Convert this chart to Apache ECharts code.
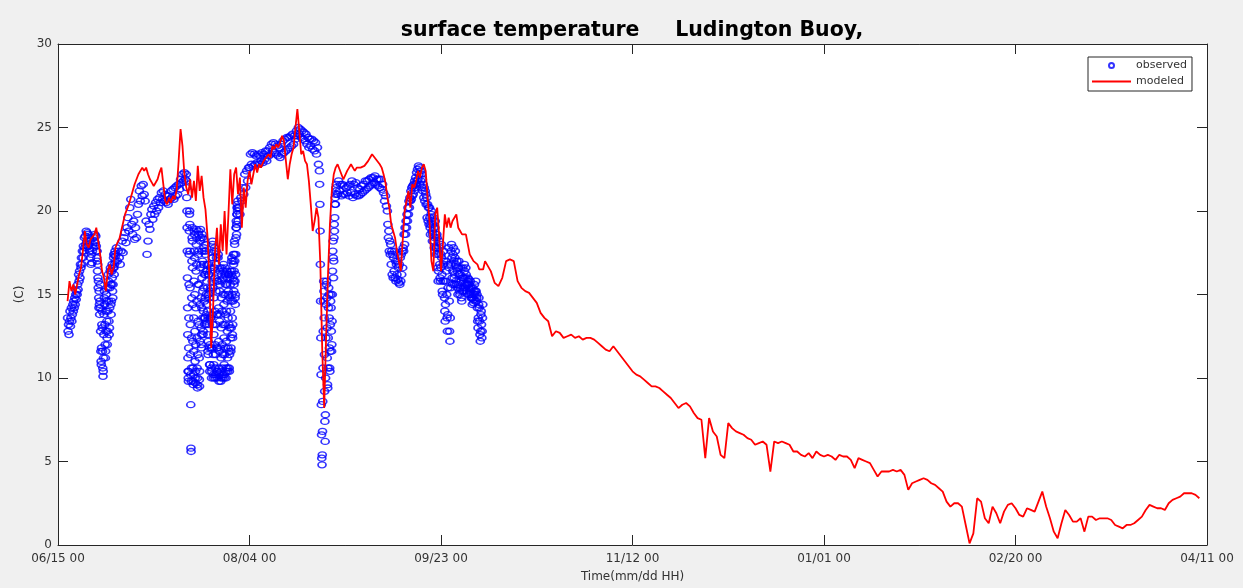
<!DOCTYPE html>
<html>
<head>
<meta charset="utf-8">
<script src="https://cdn.jsdelivr.net/npm/echarts/dist/echarts.min.js"></script>
<style>
  html, body { margin: 0; padding: 0; background: #f0f0f0; }
  #chart { width: 1243px; height: 588px; }
</style>
</head>
<body>
<div id="chart"></div>
<script>
// Time axis is in days since 06/15 00; ticks every 50 days.
const xTickLabels = ['06/15 00', '08/04 00', '09/23 00', '11/12 00', '01/01 00', '02/20 00', '04/11 00'];

// Observed buoy temperature (C), stored per segment; each comment gives the first day and sample step.
const obsEarlyJune = [ // from day 2.5, every 0.125 day
  13.6, 12.8, 13.2, 12.6,
  13.4, 14.0, 13.1, 13.6, 14.2, 13.4, 13.8, 14.4,
  14.0, 14.6, 14.2, 14.8, 14.4, 15.0, 14.7, 15.2,
  15.0, 15.6, 15.3, 16.2, 15.8, 16.4, 16.0, 16.8,
  16.6, 17.2, 16.8, 17.6, 17.2, 17.9, 17.6, 18.4,
  17.8, 18.5, 18.0, 18.8, 18.2, 18.7, 17.9, 18.6,
  18.0, 18.4, 17.6, 18.2, 17.2, 16.8, 17.4, 16.9,
  17.6, 18.0, 17.8, 18.4, 18.2, 18.6, 18.1, 18.5
];
const obsUpwelling1 = [ // from day 10, every 1/16 day
  17.9, 17.6, 17.2, 17.6, 17.0, 16.4, 16.8, 16.0, 15.4, 15.8, 14.8, 14.2, 15.2, 14.4, 13.8, 14.6,
  15.6, 14.2, 12.8, 11.6, 11.0, 10.8, 11.8, 13.2, 14.0, 13.0, 11.6, 10.6, 10.1, 10.4, 11.2, 12.6,
  13.8, 14.8, 15.2, 14.4, 13.2, 12.0, 11.2, 11.6, 12.8, 14.0, 15.0, 14.6, 13.4, 12.4, 12.0, 12.8,
  14.0, 15.4, 16.2, 15.8, 14.6, 13.4, 12.6, 13.0, 14.2, 15.4, 16.4, 16.6, 15.6, 14.4, 13.8, 14.6,
  15.6, 16.4, 16.8, 16.0, 15.2, 14.8, 15.6, 16.6, 17.2, 17.4, 16.6, 16.2, 16.8, 17.4, 17.6, 17.0
];
const obsJuly = [ // from day 15, every 0.25 day
  17.3, 17.8, 17.0, 17.6,
  17.2, 16.8, 17.6, 18.2,
  17.5, 18.4, 18.7, 18.1,
  19.0, 19.6, 18.8, 20.2,
  20.7, 19.2, 18.6, 19.4,
  18.3, 19.0, 18.4, 19.8,
  20.4, 21.2, 20.6, 21.5,
  20.9, 21.6, 21.0, 20.6,
  19.4, 17.4, 18.2, 19.2,
  18.9, 19.8, 20.1, 19.5,
  20.3, 19.8, 20.5, 20.0,
  20.7, 20.2, 20.8, 20.5,
  21.1, 20.7, 21.2, 20.6,
  21.0, 20.5, 20.9, 20.4,
  20.9, 20.7, 21.2, 20.8,
  21.3, 20.7, 21.4, 20.9,
  21.5, 21.0, 21.6, 21.3,
  21.9, 21.7, 22.2, 21.8,
  22.3, 21.9
];
const obsUpwelling2 = [ // from day 33.5, hourly
  22.2, 21.8, 21.4, 20.8, 20.0, 19.0, 17.6, 16.0, 14.2, 12.6, 11.2, 10.4,
  10.0, 9.8, 10.4, 11.8, 13.6, 15.6, 17.4, 18.8, 19.8, 20.0, 19.2, 17.6, 15.4, 13.2, 11.4, 10.2, 8.4, 5.8, 5.6, 9.8, 10.6, 12.4, 14.8, 17.0,
  18.4, 19.0, 18.2, 16.6, 14.4, 12.2, 10.6, 9.8, 9.6, 10.2, 11.6, 13.6, 15.8, 17.6, 18.8, 18.6, 17.2, 15.0, 12.8, 11.0, 10.0, 9.7, 10.4, 12.0,
  14.2, 16.4, 18.0, 18.9, 18.4, 16.8, 14.6, 12.4, 10.6, 9.6, 9.4, 10.0, 11.4, 13.4, 15.6, 17.4, 18.6, 18.8, 17.6, 15.6, 13.2, 11.2, 9.9, 9.5,
  10.4, 12.2, 14.4, 16.6, 18.2, 18.9, 18.4, 16.8, 14.8, 13.0, 12.0, 11.8, 12.6, 14.2, 16.0, 17.6, 18.6, 18.4, 17.0, 15.2, 13.6, 12.6, 12.8, 14.0,
  15.4, 16.8, 17.8, 18.3, 17.6, 16.2, 14.6, 13.6, 13.2, 13.6, 14.8, 16.2, 17.4, 18.0, 17.6, 16.4, 15.0, 13.8, 13.2, 13.4, 14.4, 15.8, 16.8, 16.4,
  15.4, 14.0, 12.6, 11.6, 11.4, 12.2, 13.6, 15.0, 16.2, 16.8, 16.2, 14.8, 13.2, 11.8, 10.8, 10.4, 10.8, 12.0, 13.6, 15.2, 16.4, 16.6, 15.4, 13.6,
  11.8, 10.6, 10.0, 10.4, 11.8, 13.8, 15.8, 17.2, 18.0, 18.2, 17.2, 15.4, 13.2, 11.4, 10.2, 10.0, 10.8, 12.6, 14.8, 16.6, 17.8, 17.6, 16.0, 14.0,
  12.0, 10.6, 10.0, 10.2, 11.4, 13.2, 15.2, 16.8, 17.6, 17.2, 15.8, 13.8, 11.8, 10.4, 10.0, 10.4, 11.8, 13.8, 15.8, 17.2, 17.4, 16.2, 14.2, 12.2,
  10.6, 9.8, 10.2, 11.6, 13.4, 15.2, 16.4, 16.6, 15.6, 13.8, 11.8, 10.4, 9.8, 10.0, 11.2, 13.0, 14.8, 16.2, 16.6, 15.8, 14.0, 12.0, 10.6, 10.0,
  10.2, 11.4, 13.2, 15.0, 16.4, 16.8, 16.0, 14.4, 12.4, 10.8, 10.0, 10.2, 11.4, 13.2, 15.0, 16.2, 16.6, 15.6, 13.8, 11.8, 10.4, 10.0, 10.6, 12.2,
  14.0, 15.6, 16.4, 16.0, 14.6, 12.8, 11.2, 10.4, 10.6, 11.8, 13.6, 15.2, 16.2, 16.2, 15.0, 13.2, 11.6, 10.6, 10.4, 11.4, 13.0, 14.8, 16.0, 16.4,
  15.6, 14.0, 12.4, 11.6, 11.8, 13.0, 14.6, 16.2, 17.0, 17.2, 16.4, 15.0, 13.6, 12.6, 12.4, 13.2, 14.6, 16.0, 17.0, 17.4, 16.8, 15.8, 15.2, 15.6,
  16.4, 17.4, 18.2, 18.0, 17.0, 15.8, 14.8, 14.4, 15.0, 16.2, 17.4, 18.4, 19.0, 19.4, 19.0, 18.6, 19.2, 19.8, 20.2, 19.8, 20.4, 20.0, 20.6, 20.2
];
const obsAugust = [ // from day 47, every 0.25 day
  19.4, 20.2, 19.8, 20.8,
  20.6, 21.4, 21.0, 22.2,
  21.4, 22.4, 21.8, 22.6,
  22.6, 23.4, 22.8, 23.5,
  22.7, 23.4, 22.8, 23.3,
  22.9, 23.4, 22.8, 23.3,
  23.0, 23.5, 22.9, 23.4,
  23.1, 23.6, 23.0, 23.6,
  23.3, 23.8, 23.4, 24.0,
  23.6, 24.1, 23.5, 24.0,
  23.4, 23.9, 23.3, 23.8,
  23.2, 24.0, 23.4, 24.2,
  23.5, 24.3, 23.6, 24.4,
  23.7, 24.4, 23.8, 24.5,
  23.9, 24.6, 24.0, 24.5,
  24.3, 24.8, 24.5, 25.0,
  24.6, 24.9, 24.4, 24.8,
  24.3, 24.7, 24.2, 24.6,
  24.0, 24.4, 23.8, 24.3,
  23.9, 24.3, 23.7, 24.2,
  23.6, 24.1, 23.4, 23.8,
  22.8
];
const obsUpwelling3 = [ // from day 68.25, every 1/16 day
  22.4, 21.6, 20.4, 18.8, 16.8, 14.6, 12.4, 10.2, 8.4, 6.6, 5.2, 4.8,
  5.4, 6.8, 8.6, 10.6, 12.8, 14.6, 15.8, 15.2, 13.6, 11.4, 9.2, 7.4, 6.2, 7.8, 10.0, 12.4,
  14.4, 15.6, 15.8, 14.8, 13.0, 11.2, 9.6, 9.4, 10.6, 12.4, 14.2, 15.4, 15.0, 13.6, 11.8, 10.6,
  10.4, 11.6, 13.2, 14.6, 15.0, 14.2, 12.8, 11.6, 12.0, 13.4, 15.0, 16.4, 17.6, 18.2, 17.2, 16.0,
  17.0, 18.4, 19.2, 18.8, 19.6, 20.4, 20.8, 20.4, 21.0, 21.4, 21.2, 21.6
];
const obsSeptember = [ // from day 73, every 0.25 day
  21.0, 21.8, 21.2, 21.6,
  20.9, 21.6, 21.0, 21.5,
  21.0, 21.4, 21.1, 21.5,
  20.9, 21.6, 21.1, 21.8,
  20.8, 21.6, 21.0, 21.7,
  20.9, 21.4, 20.9, 21.3,
  21.0, 21.5, 21.1, 21.6,
  21.2, 21.8, 21.3, 21.8,
  21.4, 21.9, 21.5, 22.0,
  21.6, 22.0, 21.7, 22.1,
  21.6, 21.9, 21.5, 21.9,
  21.4, 21.9, 21.3, 21.6,
  21.1, 20.6, 20.9, 20.3
];
const obsLateSept = [ // from day 86, every 0.125 day
  20.0, 19.2, 18.4, 18.8, 17.6, 18.2, 17.4, 18.0,
  16.8, 17.6, 16.2, 17.4, 16.0, 17.2, 16.4, 17.6,
  16.0, 17.0, 15.8, 16.8, 16.2, 17.0, 15.9, 16.6,
  15.7, 16.8, 15.6, 17.2, 15.8, 17.4, 16.2, 17.6,
  16.6, 17.8, 17.6, 18.6, 18.0, 19.0, 18.6, 19.4,
  19.0, 19.8, 19.4, 20.2, 19.8, 20.6, 20.2, 20.8,
  20.6, 21.2, 20.7, 21.4, 20.9, 21.5, 21.0, 21.6,
  21.2, 21.8, 21.4, 22.0, 21.6, 22.3, 21.8, 22.5,
  21.9, 22.7, 22.2, 22.6, 21.6, 22.4, 21.8, 22.2,
  21.4, 21.9, 21.2, 21.6, 20.8, 21.4, 20.6, 21.2,
  21.0, 20.4, 20.8, 19.6, 20.4, 19.4, 20.2, 19.2
];
const obsOctober = [ // from day 97, every 1/12 day
  20.2, 19.6, 19.0, 18.6, 19.2, 19.8, 20.0, 19.4, 18.8, 18.2, 18.6, 19.2,
  19.6, 19.0, 18.2, 17.8, 18.4, 19.0, 19.4, 18.6, 17.8, 17.4, 17.8, 18.6,
  18.4, 17.6, 16.6, 15.8, 16.4, 17.4, 18.2, 17.8, 16.8, 16.0, 15.8, 16.6,
  17.4, 18.0, 17.2, 16.2, 15.2, 15.0, 15.8, 16.8, 17.6, 17.0, 15.8, 14.8,
  14.0, 13.4, 14.4, 15.8, 17.0, 16.4, 15.0, 13.6, 12.8, 13.8, 15.4, 16.8,
  17.8, 16.6, 14.6, 12.8, 12.2, 13.6, 15.4, 16.8, 17.6, 18.0, 17.2, 16.0,
  15.6, 16.4, 17.4, 17.8, 17.0, 16.0, 15.6, 16.2, 17.2, 17.6, 16.8, 15.8,
  15.6, 16.6, 17.0, 16.4, 15.4, 15.0, 15.6, 16.6, 17.0, 16.2, 15.2, 15.0,
  15.4, 16.2, 16.6, 15.8, 14.8, 14.6, 15.2, 16.0, 16.6, 16.0, 15.2, 15.4,
  16.0, 16.8, 16.4, 15.6, 15.4, 16.0, 16.6, 16.2, 15.6, 15.2, 15.6, 15.8,
  16.0, 15.6, 15.0, 15.4, 15.9, 15.6, 15.0, 15.2, 15.8, 15.4, 14.8, 15.0,
  15.4, 14.8, 14.4, 14.8, 15.4, 15.0, 14.5, 14.7, 15.2, 15.6, 15.0, 14.6,
  15.2, 15.8, 15.2, 14.6, 14.8, 15.0, 14.2, 13.4, 13.0, 13.6, 14.4, 14.8,
  14.2, 13.4, 12.6, 12.2, 12.8, 13.8, 14.0, 13.2, 12.4, 12.8, 13.6, 14.4
];

// Modeled surface temperature (C)
const modeledSummer = [ // from day 2.5, every 0.5 day
  14.6, 15.8, 15.2, 15.6, 15.0, 14.9, 16.2, 16.6, 17.6, 18.8,
  18.0, 17.8, 18.3, 18.4, 18.6, 19.0, 18.2, 17.4, 16.4, 16.0,
  15.2, 16.4, 16.8, 16.2, 16.6, 17.8, 18.1, 18.3, 18.8, 19.3,
  19.8, 19.9, 20.4, 20.8, 21.2, 21.6, 21.9, 22.2, 22.4, 22.6,
  22.4, 22.6, 22.2, 21.9, 21.7, 21.5, 21.6, 21.9, 22.3, 22.6,
  21.6, 20.6, 20.4, 20.8, 20.5, 20.9, 20.7, 21.3, 23.0, 24.9,
  23.9, 22.2, 21.4, 21.0, 21.9, 20.8, 21.8, 20.6, 22.7, 21.2,
  22.1, 20.8, 20.1, 18.6, 16.2, 11.8, 14.2, 17.6, 19.0, 16.8,
  19.2, 17.6, 20.0, 17.4, 19.8, 22.5, 20.4, 22.2, 22.6, 21.0,
  22.0, 19.0, 21.4, 20.2, 21.8, 22.4, 21.6, 22.2, 22.8, 22.3,
  22.8, 22.6, 22.9, 23.1, 23.0, 23.4, 23.2, 23.9, 23.7, 24.0,
  23.8, 24.1, 24.5, 24.2, 23.0, 21.9, 22.8, 23.4, 23.8, 25.0,
  26.1, 24.8, 23.4, 23.6, 23.0, 22.8, 21.8, 20.4, 18.8, 19.4,
  20.2, 19.6, 16.8, 11.6, 8.2, 12.4, 16.2, 19.2, 21.2, 22.2,
  22.6, 22.8, 22.5, 22.2, 21.9, 21.8, 22.4, 22.6, 22.8, 22.6,
  22.4, 22.6, 22.5, 22.6, 22.5, 22.7, 22.8, 23.0, 23.2, 23.4,
  23.3, 23.1, 23.0, 22.8, 22.6, 22.2, 21.7, 20.8, 20.2, 19.2,
  18.8, 18.4, 17.6, 17.0, 16.4, 18.2, 20.0, 20.6, 21.2, 20.2,
  21.6, 21.4, 21.8, 22.4, 22.0, 22.6, 22.8, 22.4, 20.8, 19.4,
  17.0, 16.4, 19.8, 20.2, 18.6, 16.4, 18.0, 19.8, 19.0, 19.6,
  19.0, 19.4, 19.4, 19.8, 19.0, 18.8, 18.6, 18.7, 18.6, 18.0,
  17.4, 17.2, 17.0, 17.1, 16.8, 16.5, 16.4, 16.5, 17.0
];
const modeledWinter = [ // from day 112, every 1 day
  16.9, 16.4, 15.7, 15.5, 16.0, 17.0, 17.1, 17.0, 15.8, 15.4,
  15.2, 15.1, 14.8, 14.5, 13.9, 13.6, 13.4, 12.5, 12.8, 12.7,
  12.4, 12.5, 12.6, 12.4, 12.5, 12.3, 12.4, 12.4, 12.3, 12.1,
  11.9, 11.7, 11.6, 11.9, 11.6, 11.3, 11.0, 10.7, 10.4, 10.2,
  10.1, 9.9, 9.7, 9.5, 9.5, 9.4, 9.2, 9.0, 8.8, 8.5,
  8.2, 8.4, 8.5, 8.3, 7.9, 7.6, 7.5, 5.2, 7.6, 6.8,
  6.5, 5.4, 5.2, 7.3, 7.0, 6.8, 6.7, 6.6, 6.4, 6.3,
  6.0, 6.1, 6.2, 6.0, 4.4, 6.2, 6.1, 6.2, 6.1, 6.0,
  5.6, 5.6, 5.4, 5.3, 5.5, 5.2, 5.6, 5.4, 5.3, 5.4,
  5.3, 5.1, 5.4, 5.3, 5.3, 5.1, 4.6, 5.2, 5.1, 5.0,
  4.9, 4.5, 4.1, 4.4, 4.4, 4.4, 4.5, 4.4, 4.5, 4.2,
  3.3, 3.7, 3.8, 3.9, 4.0, 3.9, 3.7, 3.6, 3.4, 3.2,
  2.6, 2.3, 2.5, 2.5, 2.3, 1.2, 0.1, 0.7, 2.8, 2.6,
  1.6, 1.3, 2.3, 1.9, 1.3, 2.0, 2.4, 2.5, 2.2, 1.8,
  1.7, 2.2, 2.1, 2.0, 2.6, 3.2, 2.3, 1.6, 0.8, 0.4,
  1.3, 2.1, 1.8, 1.4, 1.4, 1.6, 0.8, 1.7, 1.7, 1.5,
  1.6, 1.6, 1.6, 1.5, 1.2, 1.1, 1.0, 1.2, 1.2, 1.3,
  1.5, 1.7, 2.1, 2.4, 2.3, 2.2, 2.2, 2.1, 2.5, 2.7,
  2.8, 2.9, 3.1, 3.1, 3.1, 3.0, 2.8
];

// Pair each segment's samples with their times (days since 06/15 00)
function toPoints(start, step, values) {
  return values.map((v, i) => [start + i * step, v]);
}

const observedData = [].concat(
  toPoints(2.5, 0.125, obsEarlyJune),
  toPoints(10, 1 / 16, obsUpwelling1),
  toPoints(15, 0.25, obsJuly),
  toPoints(33.5, 1 / 24, obsUpwelling2),
  toPoints(47, 0.25, obsAugust),
  toPoints(68.25, 1 / 16, obsUpwelling3),
  toPoints(73, 0.25, obsSeptember),
  toPoints(86, 0.125, obsLateSept),
  toPoints(97, 1 / 12, obsOctober)
);
const modeledData = [].concat(
  toPoints(2.5, 0.5, modeledSummer),
  toPoints(112, 1, modeledWinter)
);

const FONT = 'DejaVu Sans';
const AXIS_COLOR = '#262626';
const TEXT_COLOR = '#333333';

const frameAxis = {
  type: 'value',
  axisLine: { show: true, onZero: false, lineStyle: { color: AXIS_COLOR, width: 1 } },
  axisTick: { show: true, inside: true, length: 10, lineStyle: { color: AXIS_COLOR, width: 1 } },
  splitLine: { show: false }
};

const chart = echarts.init(document.getElementById('chart'), null, { renderer: 'canvas' });
chart.setOption({
  backgroundColor: '#f0f0f0',
  animation: false,
  title: {
    text: 'surface temperature     Ludington Buoy,',
    left: 627,
    top: 15,
    textAlign: 'center',
    textStyle: { fontFamily: FONT, fontSize: 20.5, fontWeight: 'bold', color: '#000000' }
  },
  legend: {
    data: [
      { name: 'observed' },
      { name: 'modeled', icon: 'path://M0,0L40,0L40,2L0,2Z', itemStyle: { color: '#ff0000' } }
    ],
    orient: 'vertical',
    left: 1088,
    top: 57,
    padding: [3, 5, 4, 4],
    itemGap: 5,
    itemWidth: 39,
    itemHeight: 5,
    backgroundColor: '#ffffff',
    borderColor: AXIS_COLOR,
    borderWidth: 1,
    borderRadius: 0,
    textStyle: { fontFamily: FONT, fontSize: 11, color: TEXT_COLOR }
  },
  grid: {
    left: 58, right: 36, top: 44, bottom: 41,
    show: true, backgroundColor: '#ffffff', borderWidth: 0
  },
  xAxis: [
    Object.assign({}, frameAxis, {
      min: 0, max: 300, interval: 50, position: 'bottom',
      axisLabel: {
        formatter: v => xTickLabels[Math.round(v / 50)],
        color: TEXT_COLOR, fontFamily: FONT, fontSize: 12, margin: 8
      },
      name: 'Time(mm/dd HH)',
      nameLocation: 'middle',
      nameGap: 26,
      nameTextStyle: { fontFamily: FONT, fontSize: 12, color: TEXT_COLOR }
    }),
    Object.assign({}, frameAxis, {
      min: 0, max: 300, interval: 50, position: 'top',
      axisLabel: { show: false }
    })
  ],
  yAxis: [
    Object.assign({}, frameAxis, {
      min: 0, max: 30, interval: 5, position: 'left',
      axisLabel: { color: TEXT_COLOR, fontFamily: FONT, fontSize: 12, margin: 6 },
      name: '(C)',
      nameLocation: 'middle',
      nameRotate: 90,
      nameGap: 27,
      nameTextStyle: { fontFamily: FONT, fontSize: 12, color: TEXT_COLOR }
    }),
    Object.assign({}, frameAxis, {
      min: 0, max: 30, interval: 5, position: 'right',
      axisLabel: { show: false }
    })
  ],
  series: [
    {
      name: 'observed',
      type: 'scatter',
      xAxisIndex: 0,
      yAxisIndex: 0,
      data: observedData,
      symbol: 'circle',
      symbolSize: [8, 6],
      itemStyle: { color: 'rgba(0,0,255,0)', borderColor: '#0000ff', borderWidth: 1.5 },
      silent: true,
      z: 2
    },
    {
      name: 'modeled',
      type: 'line',
      xAxisIndex: 0,
      yAxisIndex: 0,
      data: modeledData,
      symbol: 'none',
      showSymbol: false,
      lineStyle: { color: '#ff0000', width: 1.8 },
      itemStyle: { color: '#ff0000' },
      silent: true,
      z: 3
    }
  ]
});
</script>
</body>
</html>
